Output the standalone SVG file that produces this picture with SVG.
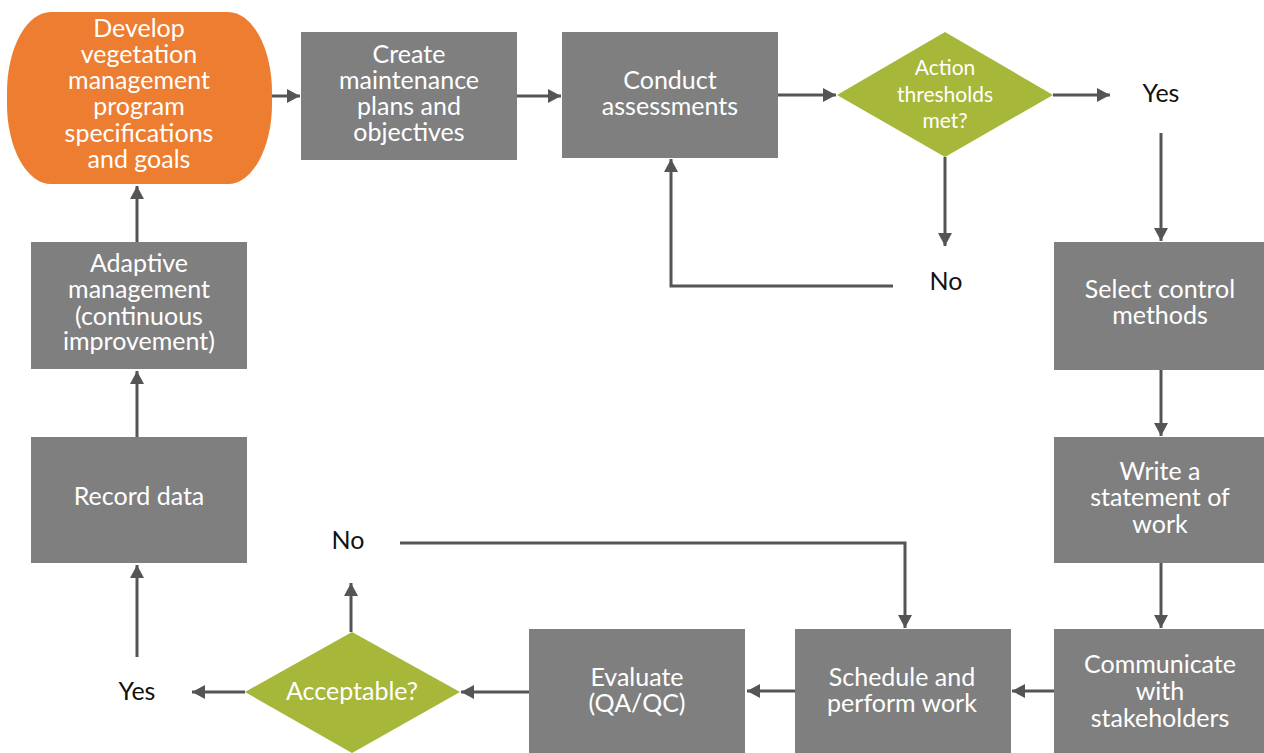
<svg xmlns="http://www.w3.org/2000/svg" width="1264" height="753" viewBox="0 0 1264 753">
<style>
.box{fill:#7f7f7f}
.dia{fill:#a6b73a}
.t{font-family:Lato,"Open Sans","DejaVu Sans",sans-serif;font-size:25px;fill:#ffffff;text-anchor:middle}
.s{font-size:21px}
.k{fill:#111111}
.c{fill:none;stroke:#555555;stroke-width:3;marker-end:url(#ah)}
</style>
<defs>
<marker id="ah" markerUnits="userSpaceOnUse" markerWidth="14" markerHeight="14" refX="13" refY="7" orient="auto">
<path d="M0,0 L13,7 L0,14 z" fill="#555555"/>
</marker>
</defs>
<rect width="1264" height="753" fill="#ffffff"/>
<g id="connectors">
<path class="c" d="M272,96 H300"/>
<path class="c" d="M517,96 H561"/>
<path class="c" d="M778,95 H836"/>
<path class="c" d="M1053,95 H1110"/>
<path class="c" d="M1161,133 V241"/>
<path class="c" d="M945,157 V246"/>
<path class="c" d="M893,286 H671 V159"/>
<path class="c" d="M1161,370 V436"/>
<path class="c" d="M1161,563 V628"/>
<path class="c" d="M1054,691 H1012"/>
<path class="c" d="M795,691 H747"/>
<path class="c" d="M529,692 H461"/>
<path class="c" d="M245,692 H192"/>
<path class="c" d="M137,657 V565"/>
<path class="c" d="M137,437 V371"/>
<path class="c" d="M137,242 V186"/>
<path class="c" d="M351,632 V583"/>
<path class="c" d="M400,543 H905 V628"/>
</g>
<g id="develop">
<rect x="7" y="12" width="265" height="172" rx="44" ry="80" fill="#ed7d31"/>
<text class="t" x="139" y="37">Develop</text>
<text class="t" x="139" y="63">vegetation</text>
<text class="t" x="139" y="89">management</text>
<text class="t" x="139" y="115">program</text>
<text class="t" x="139" y="142">specifications</text>
<text class="t" x="139" y="168">and goals</text>
</g>
<g id="create">
<rect class="box" x="301" y="32" width="216" height="128"/>
<text class="t" x="409" y="63">Create</text>
<text class="t" x="409" y="89">maintenance</text>
<text class="t" x="409" y="115">plans and</text>
<text class="t" x="409" y="141">objectives</text>
</g>
<g id="conduct">
<rect class="box" x="562" y="32" width="216" height="126"/>
<text class="t" x="670" y="89">Conduct</text>
<text class="t" x="670" y="115">assessments</text>
</g>
<g id="action">
<polygon class="dia" points="837,95 945,32 1053,95 945,157"/>
<text class="t s" x="945" y="75">Action</text>
<text class="t s" x="945" y="102">thresholds</text>
<text class="t s" x="945" y="128">met?</text>
</g>
<g id="yes-top"><text class="t k" x="1161" y="102">Yes</text></g>
<g id="no-top"><text class="t k" x="946" y="290">No</text></g>
<g id="select">
<rect class="box" x="1054" y="242" width="212" height="128"/>
<text class="t" x="1160" y="298">Select control</text>
<text class="t" x="1160" y="324">methods</text>
</g>
<g id="write">
<rect class="box" x="1054" y="437" width="212" height="126"/>
<text class="t" x="1160" y="480">Write a</text>
<text class="t" x="1160" y="506">statement of</text>
<text class="t" x="1160" y="533">work</text>
</g>
<g id="communicate">
<rect class="box" x="1054" y="629" width="212" height="126"/>
<text class="t" x="1160" y="673">Communicate</text>
<text class="t" x="1160" y="700">with</text>
<text class="t" x="1160" y="727">stakeholders</text>
</g>
<g id="schedule">
<rect class="box" x="795" y="629" width="216" height="126"/>
<text class="t" x="902" y="686">Schedule and</text>
<text class="t" x="902" y="712">perform work</text>
</g>
<g id="evaluate">
<rect class="box" x="529" y="629" width="216" height="126"/>
<text class="t" x="637" y="686">Evaluate</text>
<text class="t" x="637" y="712">(QA/QC)</text>
</g>
<g id="acceptable">
<polygon class="dia" points="245,692 352,632 460,692 352,753"/>
<text class="t" x="352" y="700">Acceptable?</text>
</g>
<g id="yes-bottom"><text class="t k" x="137" y="700">Yes</text></g>
<g id="no-bottom"><text class="t k" x="348" y="549">No</text></g>
<g id="record">
<rect class="box" x="31" y="437" width="216" height="126"/>
<text class="t" x="139" y="505">Record data</text>
</g>
<g id="adaptive">
<rect class="box" x="31" y="242" width="216" height="127"/>
<text class="t" x="139" y="272">Adaptive</text>
<text class="t" x="139" y="298">management</text>
<text class="t" x="139" y="325">(continuous</text>
<text class="t" x="139" y="350">improvement)</text>
</g>
</svg>
